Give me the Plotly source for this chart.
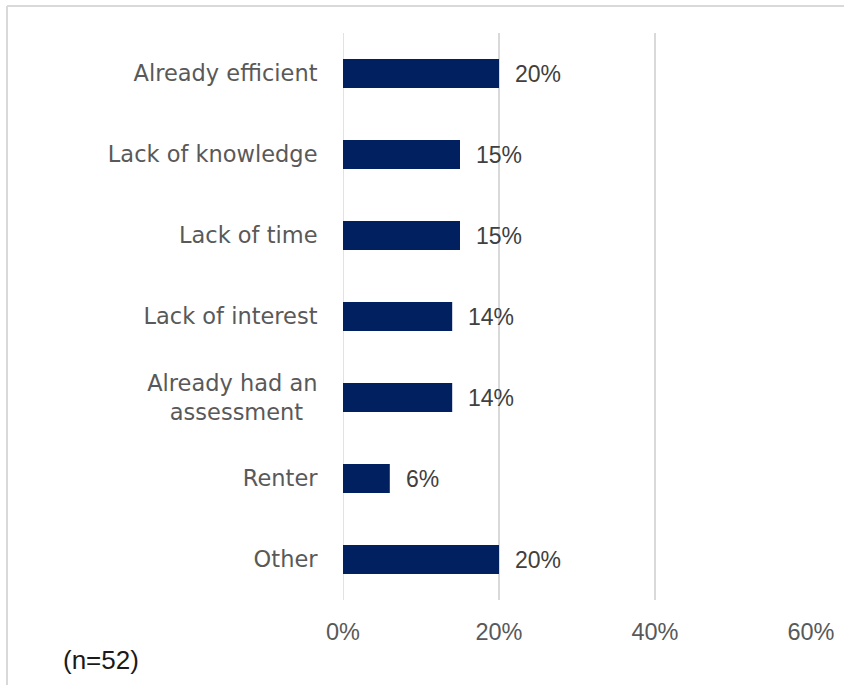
import plotly.graph_objects as go

# Reasons for not getting an energy assessment (n=52)
categories = [
    "Already efficient",
    "Lack of knowledge",
    "Lack of time",
    "Lack of interest",
    "Already had an assessment",
    "Renter",
    "Other",
]
# axis text for each category; the two-line label is padded so both lines sit centred
category_labels = [
    "Already efficient",
    "Lack of knowledge",
    "Lack of time",
    "Lack of interest",
    "Already had an<br>assessment\u00a0\u00a0",
    "Renter",
    "Other",
]
shares = [20, 15, 15, 14, 14, 6, 20]
tick_values = [0, 20, 40, 60]
tick_labels = ["0%", "20%", "40%", "60%"]
sample_note = "(n=52)"

BAR_COLOR = "#002060"
GRID_COLOR = "#d9d9d9"
TEXT_GRAY = "#595959"
NUM_FONT = "Liberation Sans, Arial, sans-serif"
CAT_FONT = "DejaVu Sans, Open Sans, sans-serif"

W, H = 844, 685
M_L, M_R, M_T, M_B = 343, 33, 33, 85
plot_w = W - M_L - M_R
plot_h = H - M_T - M_B


def px_to_paper_x(px):
    return (px - M_L) / plot_w


def px_to_paper_y(py):
    return (H - M_B - py) / plot_h


fig = go.Figure(
    go.Bar(
        x=shares,
        y=categories,
        orientation="h",
        marker=dict(color=BAR_COLOR, line=dict(width=0)),
        hoverinfo="skip",
    )
)

# value labels to the right of each bar
for cat, val in zip(categories, shares):
    fig.add_annotation(
        x=val, y=cat, xref="x", yref="y",
        text=f"{val}%", showarrow=False,
        xanchor="left", yanchor="middle", xshift=14,
        font=dict(family=NUM_FONT, size=23, color="#404040"),
    )

# sample size note, bottom left
fig.add_annotation(
    x=px_to_paper_x(101), y=px_to_paper_y(660), xref="paper", yref="paper",
    xanchor="center", yanchor="middle",
    text=sample_note, showarrow=False,
    font=dict(family=NUM_FONT, size=26, color="#1a1a1a"),
)

fig.update_layout(
    width=W,
    height=H,
    margin=dict(l=M_L, r=M_R, t=M_T, b=M_B, autoexpand=False),
    paper_bgcolor="white",
    plot_bgcolor="white",
    bargap=0.64,
    showlegend=False,
    font=dict(family=CAT_FONT, color=TEXT_GRAY),
    xaxis=dict(
        range=[0, 60],
        tickvals=tick_values,
        ticktext=tick_labels,
        showgrid=True,
        gridcolor=GRID_COLOR,
        gridwidth=1.5,
        zeroline=False,
        showline=False,
        ticks="outside",
        ticklen=11,
        tickcolor="rgba(0,0,0,0)",
        tickfont=dict(family=NUM_FONT, size=23.5, color=TEXT_GRAY),
        fixedrange=True,
    ),
    yaxis=dict(
        categoryorder="array",
        categoryarray=categories[::-1],
        tickmode="array",
        tickvals=categories,
        ticktext=category_labels,
        showgrid=False,
        zeroline=False,
        showline=False,
        ticks="outside",
        ticklen=20,
        tickcolor="rgba(0,0,0,0)",
        tickfont=dict(family=CAT_FONT, size=22.5, color=TEXT_GRAY),
        fixedrange=True,
    ),
)

# zero line drawn as a gridline-coloured rule
fig.add_shape(type="line", xref="x", yref="paper", x0=0, x1=0, y0=0, y1=1,
              line=dict(color=GRID_COLOR, width=1.5), layer="below")

# light frame along top and left edges
top_y = px_to_paper_y(6)
left_x = px_to_paper_x(7)
fig.add_shape(type="line", xref="paper", yref="paper",
              x0=left_x, x1=px_to_paper_x(850), y0=top_y, y1=top_y,
              line=dict(color=GRID_COLOR, width=2))
fig.add_shape(type="line", xref="paper", yref="paper",
              x0=left_x, x1=left_x, y0=top_y, y1=px_to_paper_y(690),
              line=dict(color=GRID_COLOR, width=2))

fig.write_html("out.html")
